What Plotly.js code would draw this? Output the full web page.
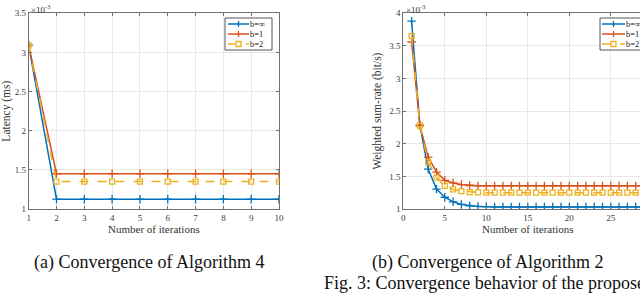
<!DOCTYPE html>
<html>
<head>
<meta charset="utf-8">
<script src="https://cdn.plot.ly/plotly-3.0.1.min.js"></script>
<style>
html,body{margin:0;padding:0;overflow:hidden;background:#fff;width:640px;height:294px;}
#chart{width:665px;height:294px;}
</style>
</head>
<body>
<div id="chart"></div>
<script>
// Values in units of 1e-3 (axis shows x10^-3)
const iterA = [1,2,3,4,5,6,7,8,9,10];
const latInf = [3.09,1.125,1.125,1.125,1.125,1.125,1.125,1.125,1.125,1.125];
const latB1  = [3.09,1.45,1.45,1.45,1.45,1.45,1.45,1.45,1.45,1.45];
const latB2  = [3.09,1.35,1.35,1.35,1.35,1.35,1.35,1.35,1.35,1.35];

const iterB = [1,2,3,4,5,6,7,8,9,10,11,12,13,14,15,16,17,18,19,20,21,22,23,24,25,26,27,28,29,30];
const rateInf = [3.88,2.28,1.61,1.305,1.18,1.11,1.07,1.05,1.04,1.035,1.03,1.03,1.03,1.03,1.03,1.03,1.03,1.03,1.03,1.03,1.03,1.03,1.03,1.03,1.03,1.03,1.03,1.03,1.03,1.03];
const rateB1  = [3.56,2.28,1.795,1.565,1.44,1.40,1.375,1.36,1.355,1.355,1.355,1.355,1.355,1.355,1.355,1.355,1.355,1.355,1.355,1.355,1.355,1.355,1.355,1.355,1.355,1.355,1.355,1.355,1.355,1.355];
const rateB2  = [3.65,2.28,1.72,1.48,1.355,1.30,1.275,1.26,1.255,1.25,1.25,1.25,1.25,1.25,1.25,1.25,1.25,1.25,1.25,1.25,1.25,1.25,1.25,1.25,1.25,1.25,1.25,1.25,1.25,1.25];

const seriesNames = ['b=\u221E','b=1','b=2'];
const colors = ['#0072BD','#D95319','#EDB120'];
const markerKinds = ['plus','plus','square'];

const FONT = 'Liberation Serif, serif';
const W = 665, H = 294;

function plusTrace(x,y,i,xa,ya){
  return {x:x,y:y,type:'scatter',mode:'lines+markers',name:seriesNames[i],
    xaxis:xa,yaxis:ya,
    line:{color:colors[i],width:1.5},
    marker:{symbol:'cross-thin-open',size:6,color:colors[i],line:{color:colors[i],width:1.3}}};
}
function sqTrace(x,y,i,xa,ya){
  return {x:x,y:y,type:'scatter',mode:'lines+markers',name:seriesNames[i],
    xaxis:xa,yaxis:ya,
    line:{color:colors[i],width:1.5,dash:'dash'},
    marker:{symbol:'square-open',size:5,color:colors[i],line:{color:colors[i],width:1.3}}};
}

const data = [
  plusTrace(iterA,latInf,0,'x','y'),
  plusTrace(iterA,latB1,1,'x','y'),
  sqTrace(iterA,latB2,2,'x','y'),
  plusTrace(iterB,rateInf,0,'x2','y2'),
  plusTrace(iterB,rateB1,1,'x2','y2'),
  sqTrace(iterB,rateB2,2,'x2','y2')
];

const axisCommon = {
  showline:true, linecolor:'#707070', linewidth:1, mirror:'allticks',
  ticks:'inside', ticklen:3, tickcolor:'#707070',
  showgrid:true, gridcolor:'#e8e8e8', gridwidth:1, zeroline:false,
  tickfont:{family:FONT,size:9,color:'#3a3a3a'}
};
const ydom = [1-209/H, 1-13.3/H];
const titleFont = {family:FONT,size:11,color:'#333'};
const yTitleFont = {family:FONT,size:11.5,color:'#333'};

// custom compact legend (MATLAB style), pixel -> paper helpers
const px = v => v/W, py = v => 1 - v/H;
const shapes = [];
const annotations = [];
function addLegend(x0, x1, lineStart, lineEnd, textX){
  shapes.push({type:'rect',xref:'paper',yref:'paper',x0:px(x0),x1:px(x1),y0:py(50),y1:py(18),
    line:{color:'#555',width:1},fillcolor:'#fff',layer:'above'});
  const rows = [24,34,44];
  for(let i=0;i<seriesNames.length;i++){
    const ry = rows[i];
    const mx = (lineStart+lineEnd)/2;
    if(markerKinds[i]==='plus'){
      shapes.push({type:'line',xref:'paper',yref:'paper',x0:px(lineStart),x1:px(lineEnd),y0:py(ry),y1:py(ry),
        line:{color:colors[i],width:1.5},layer:'above'});
      shapes.push({type:'line',xref:'paper',yref:'paper',x0:px(mx),x1:px(mx),y0:py(ry-3),y1:py(ry+3),
        line:{color:colors[i],width:1.3},layer:'above'});
    } else {
      shapes.push({type:'line',xref:'paper',yref:'paper',x0:px(lineStart),x1:px(lineEnd),y0:py(ry),y1:py(ry),
        line:{color:colors[i],width:1.5,dash:'dash'},layer:'above'});
      shapes.push({type:'rect',xref:'paper',yref:'paper',x0:px(mx-2.5),x1:px(mx+2.5),y0:py(ry+2.5),y1:py(ry-2.5),
        line:{color:colors[i],width:1.3},fillcolor:'#fff',layer:'above'});
    }
    annotations.push({xref:'paper',yref:'paper',x:px(textX),y:py(ry),xanchor:'left',yanchor:'middle',
      showarrow:false,text:seriesNames[i],font:{family:FONT,size:8.5,color:'#222'},borderpad:0});
  }
}
addLegend(225, 272, 228, 249, 249);
addLegend(600, 647, 602, 625, 625);

annotations.push(
  {xref:'paper',yref:'paper',x:px(29),y:py(1),xanchor:'left',yanchor:'top',showarrow:false,
    text:'\u00D710<sup>-3</sup>',font:{family:FONT,size:9,color:'#333'}},
  {xref:'paper',yref:'paper',x:px(404),y:py(1),xanchor:'left',yanchor:'top',showarrow:false,
    text:'\u00D710<sup>-3</sup>',font:{family:FONT,size:9,color:'#333'}},
  {xref:'paper',yref:'paper',x:px(149),y:py(262),xanchor:'center',yanchor:'middle',showarrow:false,
    text:'(a) Convergence of Algorithm 4',font:{family:FONT,size:18,color:'#111'}},
  {xref:'paper',yref:'paper',x:px(488),y:py(262),xanchor:'center',yanchor:'middle',showarrow:false,
    text:'(b) Convergence of Algorithm 2',font:{family:FONT,size:18,color:'#111'}},
  {xref:'paper',yref:'paper',x:px(322),y:py(283),xanchor:'left',yanchor:'middle',showarrow:false,
    text:'Fig. 3: Convergence behavior of the proposed',font:{family:FONT,size:18,color:'#111'}}
);

const layout = {
  width:W, height:H,
  margin:{l:0,r:0,t:0,b:0},
  paper_bgcolor:'#fff', plot_bgcolor:'#fff',
  showlegend:false,
  font:{family:FONT},
  xaxis:Object.assign({},axisCommon,{domain:[px(28.7),px(279)],range:[1,10],dtick:1,
    title:{text:'Number of iterations',font:titleFont,standoff:2}}),
  yaxis:Object.assign({},axisCommon,{domain:ydom,range:[1,3.5],dtick:0.5,
    title:{text:'Latency (ms)',font:yTitleFont,standoff:5}}),
  xaxis2:Object.assign({},axisCommon,{domain:[px(403.3),px(652.3)],range:[0,30],dtick:5,anchor:'y2',
    title:{text:'Number of iterations',font:titleFont,standoff:2}}),
  yaxis2:Object.assign({},axisCommon,{domain:ydom,range:[1,4],dtick:0.5,anchor:'x2',
    title:{text:'Weighted sum-rate (bit/s)',font:yTitleFont,standoff:5}}),
  shapes:shapes,
  annotations:annotations
};

Plotly.newPlot('chart',data,layout,{staticPlot:true,displayModeBar:false});
</script>
</body>
</html>
